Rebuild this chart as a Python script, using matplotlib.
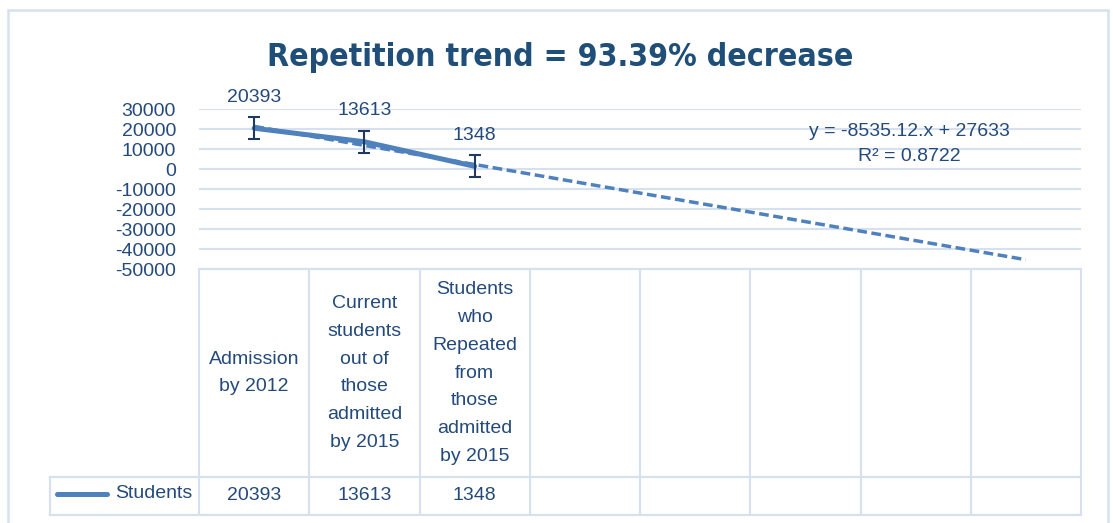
import matplotlib
matplotlib.use('Agg')
import matplotlib.pyplot as plt
from matplotlib.patches import Rectangle
from matplotlib import font_manager as fm
import numpy as np

# data
categories = ['Admission\nby 2012',
              'Current\nstudents\nout of\nthose\nadmitted\nby 2015',
              'Students\nwho\nRepeated\nfrom\nthose\nadmitted\nby 2015',
              '', '', '', '', '']
students = [20393, 13613, 1348]
std_err = [5573, 5573, 5573]
y_ticks = [30000, 20000, 10000, 0, -10000, -20000, -30000, -40000, -50000]
series_name = 'Students'
title = 'Repetition trend = 93.39% decrease'
trend_label = 'y = -8535.12.x + 27633\nR\u00b2 = 0.8722'

W, H = 1113, 523
line_col = '#4F81BD'
grid_col = '#D5E1F1'
text_col = '#244A7C'
err_col = '#1F3A60'
fs = 14

plt.rcParams['font.family'] = ['Liberation Sans', 'DejaVu Sans']

fig = plt.figure(figsize=(W / 100, H / 100), dpi=100)

def fbox(x0, y0, x1, y1):
    # pixel box (top-left origin) -> figure fraction rect
    return [x0 / W, 1 - y1 / H, (x1 - x0) / W, (y1 - y0) / H]

# outer chart border
fig.patches.append(Rectangle((8 / W, -0.05), 1100 / W, 1.05 - 10 / H,
                             transform=fig.transFigure, fill=False,
                             edgecolor=grid_col, linewidth=1.8))

# condensed bold face for the title if one is installed
narrow = [f.fname for f in fm.fontManager.ttflist
          if ('Narrow' in f.fname or 'Condensed' in f.fname)
          and 'Bold' in f.fname and 'Italic' not in f.fname]
narrow.sort(key=lambda p: ('Liberation' not in p, 'SemiCondensed' in p, p))
if narrow:
    tprop = fm.FontProperties(fname=narrow[0])
else:
    tprop = fm.FontProperties(family='Liberation Sans', weight='bold')
tprop.set_size(28)
ttl = fig.text(560 / W, 1 - 66 / H, title, ha='center', va='baseline',
               fontproperties=tprop, color='#1F4E79')
r = fig.canvas.get_renderer()
tw = ttl.get_window_extent(r).width
tprop.set_size(28 * 586 / tw)
ttl.set_fontproperties(tprop)

# plot area
ax = fig.add_axes(fbox(199, 109, 1081, 269))
x = np.arange(len(students))
xall = np.arange(len(categories))

coef = np.polyfit(x, students, 1)
ax.plot(xall, np.polyval(coef, xall), color=line_col, lw=2.5,
        dashes=(2.8, 1.3), zorder=2)
ax.plot(x, students, color=line_col, lw=3.6, solid_capstyle='round', zorder=3)
ax.errorbar(x, students, yerr=std_err, fmt='none', ecolor=err_col,
            elinewidth=1.5, capsize=4.5, capthick=1.5, zorder=4)
for xi, v in zip(x, students):
    ax.annotate(str(v), (xi, v), xytext=(0, 31), textcoords='offset pixels',
                ha='center', va='center', fontsize=fs, color=text_col)

ax.text(5.94, 12500, trend_label, ha='center', va='center', fontsize=fs,
        color=text_col, linespacing=1.6)

ax.set_xlim(-0.5, len(categories) - 0.5)
ax.set_ylim(-50000, 30000)
ax.set_yticks(y_ticks)
ax.set_yticklabels([str(t) for t in y_ticks], fontsize=fs, color=text_col)
ax.tick_params(axis='y', length=0, pad=16.5)
ax.set_xticks([])
ax.grid(axis='y', color=grid_col, lw=1.5)
ax.set_axisbelow(True)
for s in ax.spines.values():
    s.set_visible(False)
ax.set_facecolor('none')

# data table under the plot
tax = fig.add_axes(fbox(50, 269, 1081, 515))
left = -0.5 - 149 / 110.25
n = len(categories)
tax.set_xlim(left, n - 0.5)
tax.set_ylim(246, 0)
tax.axis('off')
lk = dict(color=grid_col, lw=1.5, clip_on=False)
tax.plot([-0.5, n - 0.5], [0, 0], **lk)
tax.plot([left, n - 0.5], [208, 208], **lk)
tax.plot([left, n - 0.5], [246, 246], **lk)
tax.plot([left, left], [208, 246], **lk)
for b in np.arange(n + 1) - 0.5:
    tax.plot([b, b], [0, 246], **lk)

for i, lab in enumerate(categories):
    tax.text(i, 104, lab, ha='center', va='center', fontsize=fs,
             color=text_col, linespacing=1.83)
for i, v in enumerate(students):
    tax.text(i, 226, str(v), ha='center', va='center', fontsize=fs,
             color=text_col)

tax.plot([left + 7 / 110.25, left + 57 / 110.25], [225, 225], color=line_col,
         lw=3.6, solid_capstyle='round')
tax.text(-0.5 - 7 / 110.25, 225, series_name, ha='right', va='center',
         fontsize=fs, color=text_col)

fig.savefig('out.png', dpi=100)
